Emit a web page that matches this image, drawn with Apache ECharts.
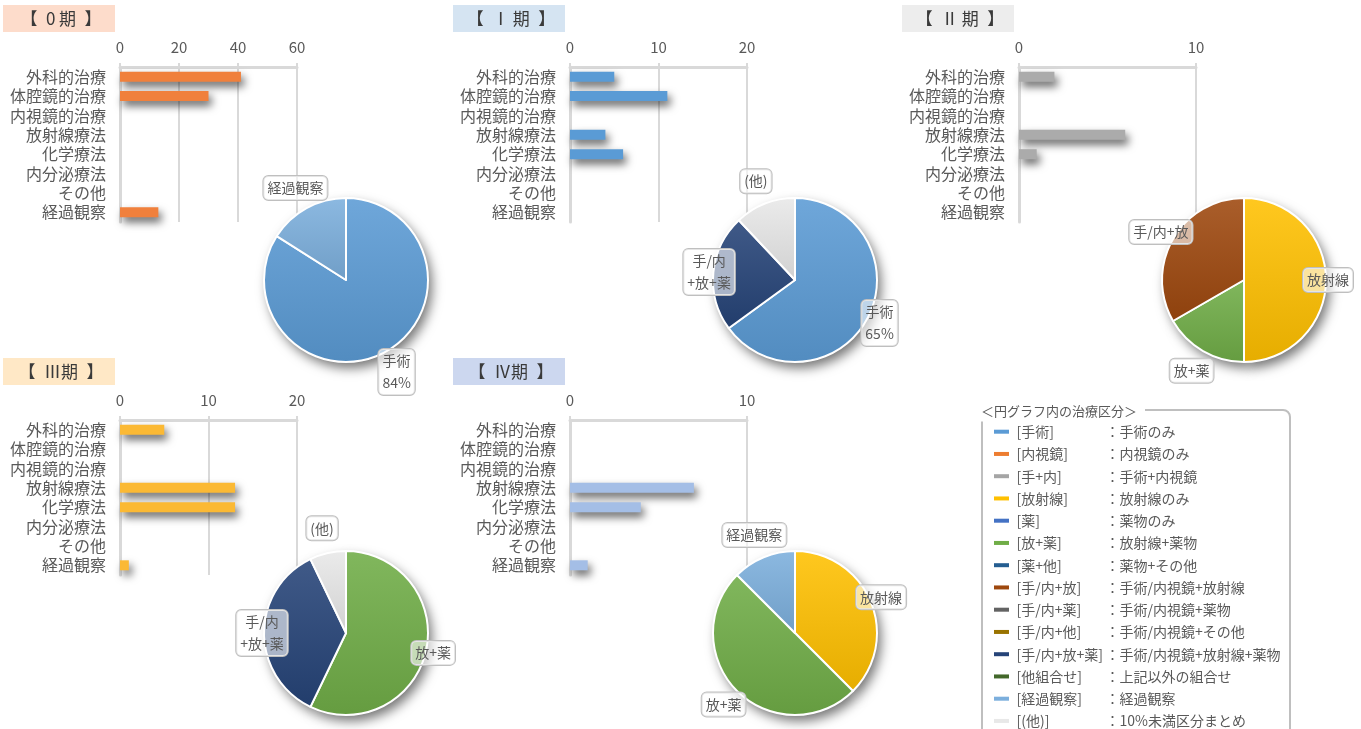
<!DOCTYPE html>
<html>
<head>
<meta charset="utf-8">
<title>病期別 治療内容</title>
<script src="https://cdn.jsdelivr.net/npm/echarts@6/dist/echarts.min.js"></script>
<style>
  html, body { margin: 0; padding: 0; background: #fff; }
  #chart { width: 1361px; height: 729px; }
</style>
</head>
<body>
<div id="chart"></div>
<script>
// ---- data ----
const categories = ['外科的治療', '体腔鏡的治療', '内視鏡的治療', '放射線療法', '化学療法', '内分泌療法', 'その他', '経過観察'];
const stageTitles = ['【\u20020\u2009期\u2002】', '【\u2002Ⅰ\u2009期\u2002】', '【\u2002Ⅱ\u2009期\u2002】', '【\u2002Ⅲ期\u2002】', '【\u2002Ⅳ期\u2002】'];

const barValues0 = [41, 30, 0, 0, 0, 0, 0, 13];
const barValues1 = [5, 11, 0, 4, 6, 0, 0, 0];
const barValues2 = [2, 0, 0, 6, 1, 0, 0, 0];
const barValues3 = [5, 0, 0, 13, 13, 0, 0, 1];
const barValues4 = [0, 0, 0, 7, 4, 0, 0, 1];
const axisMax = [60, 20, 10, 20, 10];
const axisInterval = [20, 10, 10, 10, 10];

const pieNames0 = ['手術', '経過観察'];
const pieValues0 = [84, 16];
const pieNames1 = ['手術', '手/内+放+薬', '(他)'];
const pieValues1 = [65, 23, 12];
const pieNames2 = ['放射線', '放+薬', '手/内+放'];
const pieValues2 = [3, 1, 2];
const pieNames3 = ['放+薬', '手/内+放+薬', '(他)'];
const pieValues3 = [8, 5, 1];
const pieNames4 = ['放射線', '放+薬', '経過観察'];
const pieValues4 = [3, 4, 1];
// slice whose label also shows its percentage (-1: none)
const piePctIndex = [0, 0, -1, -1, -1];

const legendKeys = ['手術', '内視鏡', '手+内', '放射線', '薬', '放+薬', '薬+他', '手/内+放', '手/内+薬', '手/内+他', '手/内+放+薬', '他組合せ', '経過観察', '(他)'];
const legendDescs = ['手術のみ', '内視鏡のみ', '手術+内視鏡', '放射線のみ', '薬物のみ', '放射線+薬物', '薬物+その他', '手術/内視鏡+放射線', '手術/内視鏡+薬物', '手術/内視鏡+その他', '手術/内視鏡+放射線+薬物', '上記以外の組合せ', '経過観察', '10%未満区分まとめ'];

// ---- styles ----
const legendColors = ['#5B9BD5', '#ED7D31', '#A5A5A5', '#FFC000', '#4472C4', '#70AD47', '#255E91', '#9E480E', '#636363', '#997300', '#264478', '#43682B', '#7CAFDD', '#E8E8E8'];
const barColors = ['#F0803C', '#5A9BD5', '#ABABAB', '#FBB934', '#A4BEE6'];
const titleColors = ['#FDDCCB', '#D5E4F2', '#EDEDED', '#FFE8C6', '#CCD7EF'];
const gridPos = [[120, 67], [570, 67], [1019, 67], [120, 420], [570, 420]];
const titlePos = [[3, 5], [453, 5], [902, 5], [3, 358], [453, 358]];
const pieCenters = [[346, 280], [795, 280], [1244, 280], [346, 633], [795, 633]];
const PIE_R = 82;
const FONT = "'Noto Sans CJK JP', 'Noto Sans', sans-serif";
const TXT = '#595959';

const barValues = [barValues0, barValues1, barValues2, barValues3, barValues4];
const pieNames = [pieNames0, pieNames1, pieNames2, pieNames3, pieNames4];
const pieValues = [pieValues0, pieValues1, pieValues2, pieValues3, pieValues4];

function mix(hex, target, t) {
  const a = parseInt(hex.slice(1), 16), b = parseInt(target.slice(1), 16);
  const ch = (v, s) => (v >> s) & 255;
  const r = Math.round(ch(a, 16) + (ch(b, 16) - ch(a, 16)) * t);
  const g = Math.round(ch(a, 8) + (ch(b, 8) - ch(a, 8)) * t);
  const bl = Math.round(ch(a, 0) + (ch(b, 0) - ch(a, 0)) * t);
  return 'rgb(' + r + ',' + g + ',' + bl + ')';
}

function sliceColor(name) {
  const c = legendColors[legendKeys.indexOf(name)];
  return new echarts.graphic.LinearGradient(0, 0, 0, 1, [
    {offset: 0, color: mix(c, '#ffffff', 0.12)},
    {offset: 1, color: mix(c, '#000000', 0.1)}
  ]);
}

// label sits just outside the slice, closer in at the sides
function pieLabelPos(p, i) {
  const vals = pieValues[p];
  const total = vals.reduce((s, v) => s + v, 0);
  let cum = 0;
  for (let k = 0; k < i; k++) cum += vals[k];
  const mid = (cum + vals[i] / 2) / total * Math.PI * 2;
  const d = PIE_R + 2 + 24 * Math.abs(Math.cos(mid));
  const c = pieCenters[p];
  return {x: c[0] + d * Math.sin(mid), y: c[1] - d * Math.cos(mid), align: 'center', verticalAlign: 'middle'};
}

const grids = [], xAxes = [], yAxes = [], series = [], graphics = [];

for (let p = 0; p < 5; p++) {
  grids.push({left: gridPos[p][0], top: gridPos[p][1], width: 177, height: 155, containLabel: false});
  xAxes.push({
    gridIndex: p, type: 'value', position: 'top', min: 0, max: axisMax[p], interval: axisInterval[p],
    axisLine: {show: true, lineStyle: {color: '#D9D9D9', width: 3}},
    axisTick: {show: true, length: 4, lineStyle: {color: '#D9D9D9', width: 2}},
    splitLine: {show: true, lineStyle: {color: '#D9D9D9', width: 2, type: 'solid'}},
    axisLabel: {fontSize: 15, color: TXT, margin: 12, fontFamily: FONT}
  });
  yAxes.push({
    gridIndex: p, type: 'category', inverse: true, data: categories,
    axisLine: {show: true, lineStyle: {color: '#D9D9D9', width: 3}},
    axisTick: {show: false},
    splitLine: {show: false},
    axisLabel: {interval: 0, fontSize: 16, color: TXT, margin: 14, fontFamily: FONT}
  });
  series.push({
    type: 'bar', xAxisIndex: p, yAxisIndex: p, data: barValues[p], barWidth: 10, z: 2,
    itemStyle: {color: barColors[p], shadowColor: 'rgba(0,0,0,0.6)', shadowBlur: 8, shadowOffsetX: 3, shadowOffsetY: 5}
  });

  const data = pieNames[p].map((n, i) => ({name: n, value: pieValues[p][i], itemStyle: {color: sliceColor(n)}}));
  // drop shadow underneath the pie
  series.push({
    type: 'pie', center: pieCenters[p], radius: PIE_R, startAngle: 90, clockwise: true, silent: true, z: 3,
    data: pieValues[p].map(v => ({value: v})),
    label: {show: false}, labelLine: {show: false},
    itemStyle: {color: '#ffffff', shadowColor: 'rgba(0,0,0,0.55)', shadowBlur: 12, shadowOffsetX: 4, shadowOffsetY: 6}
  });
  series.push({
    type: 'pie', center: pieCenters[p], radius: PIE_R, startAngle: 90, clockwise: true, z: 4,
    avoidLabelOverlap: false, data: data,
    itemStyle: {borderColor: '#ffffff', borderWidth: 2},
    label: {
      show: true, position: 'outside', fontFamily: FONT, fontSize: 14, color: TXT, lineHeight: 22,
      backgroundColor: 'rgba(255,255,255,0.6)', borderColor: '#BFBFBF', borderWidth: 1, borderRadius: 5,
      padding: [1, 4],
      formatter: prm => {
        let s = prm.name.replace('手/内+放+薬', '手/内\n+放+薬');
        if (prm.dataIndex === piePctIndex[p]) s += '\n' + Math.round(prm.percent) + '%';
        return s;
      }
    },
    labelLine: {show: false},
    labelLayout: prm => pieLabelPos(p, prm.dataIndex),
    emphasis: {disabled: true}
  });

  graphics.push({
    type: 'rect', left: titlePos[p][0], top: titlePos[p][1], z: 10,
    shape: {width: 112, height: 27}, style: {fill: titleColors[p]}
  });
  graphics.push({
    type: 'text', x: titlePos[p][0] + 58, y: titlePos[p][1] + 14, z: 11,
    style: {text: stageTitles[p], font: '17px ' + FONT, fill: '#3A3A3A', textAlign: 'center', textVerticalAlign: 'middle'}
  });
}

// legend box for pie categories
graphics.push({
  type: 'rect', z: 10, shape: {x: 982, y: 410, width: 308, height: 340, r: 7},
  style: {fill: 'none', stroke: '#BFBFBF', lineWidth: 2}
});
graphics.push({
  type: 'text', z: 11, x: 978, y: 411,
  style: {text: '＜円グラフ内の治療区分＞', font: '13px ' + FONT, fill: TXT, textVerticalAlign: 'middle',
    backgroundColor: '#ffffff', padding: [4, 8, 4, 3]}
});
legendKeys.forEach((k, i) => {
  const y = 431.7 + 22.25 * i;
  graphics.push({type: 'rect', z: 11, shape: {x: 994, y: y - 2, width: 15, height: 4}, style: {fill: legendColors[i]}});
  graphics.push({type: 'text', z: 11, x: 1016.5, y: y,
    style: {text: '[' + k + ']', font: '14px ' + FONT, fill: TXT, textVerticalAlign: 'middle'}});
  graphics.push({type: 'text', z: 11, x: 1105.5, y: y,
    style: {text: '：' + legendDescs[i], font: '14px ' + FONT, fill: TXT, textVerticalAlign: 'middle'}});
});

const chart = echarts.init(document.getElementById('chart'));
chart.setOption({
  animation: false,
  backgroundColor: '#ffffff',
  textStyle: {fontFamily: FONT},
  tooltip: {show: false},
  grid: grids,
  xAxis: xAxes,
  yAxis: yAxes,
  series: series,
  graphic: graphics
});
</script>
</body>
</html>
